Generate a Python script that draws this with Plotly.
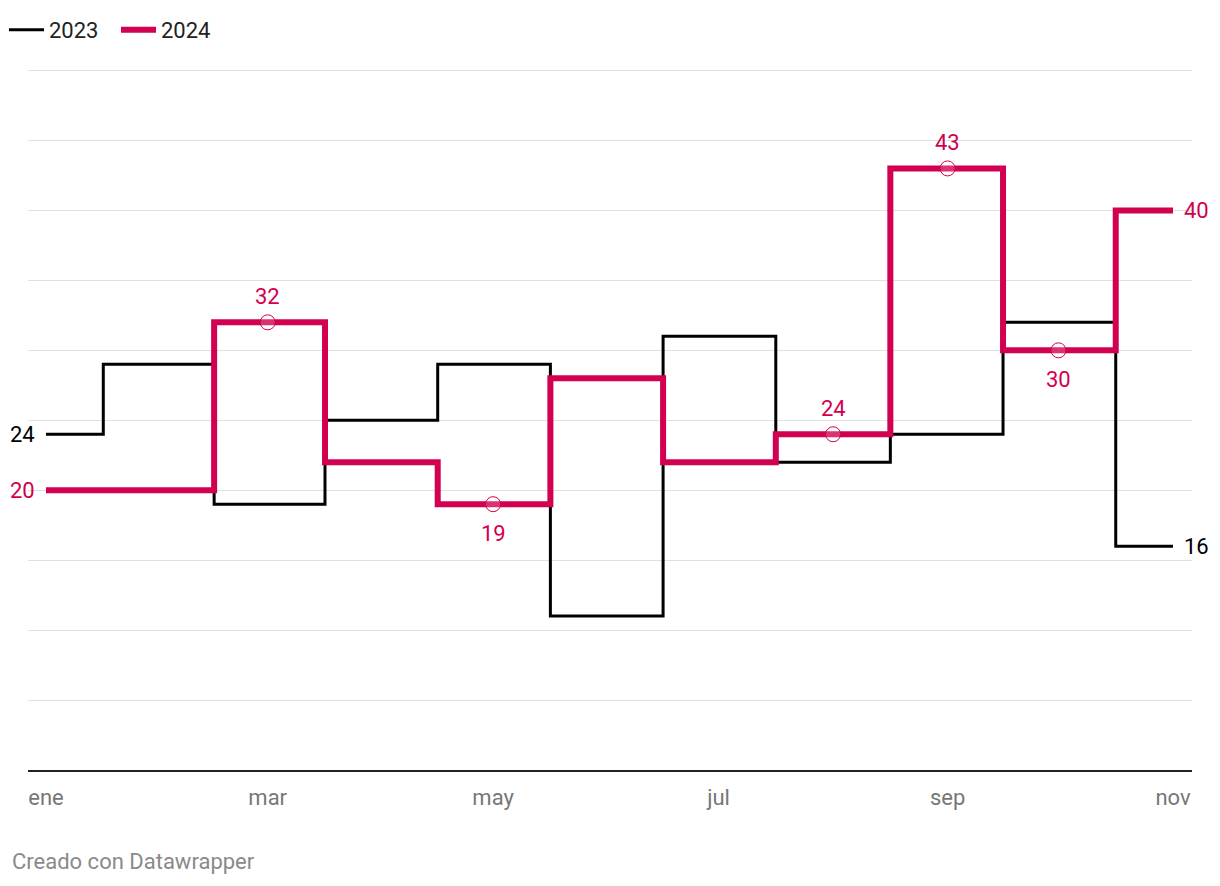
import plotly.graph_objects as go

months = ["2024-01-01", "2024-02-01", "2024-03-01", "2024-04-01", "2024-05-01", "2024-06-01",
          "2024-07-01", "2024-08-01", "2024-09-01", "2024-10-01", "2024-11-01"]
values_2023 = [24, 29, 19, 25, 29, 11, 31, 22, 24, 32, 16]
values_2024 = [20, 20, 32, 22, 19, 28, 22, 24, 43, 30, 40]

tick_vals = ["2024-01-01", "2024-03-01", "2024-05-01", "2024-07-01", "2024-09-01", "2024-11-01"]
tick_text = ["ene", "mar", "may", "jul", "sep", "nov"]
grid_vals = [0, 5, 10, 15, 20, 25, 30, 35, 40, 45, 50]

# points highlighted with a marker and value label (index, position of label)
highlight_idx = [2, 4, 7, 8, 9]
highlight_pos = ["above", "below", "above", "above", "below"]

BLACK = "#000000"
RED = "#d10050"
FONT = "Roboto"

# the page body has an 8px margin; the figure is sized to fit inside it
Y_TOP = 50.25          # a little headroom so the top gridline is drawn
W, H = 1204, 870
ML, MR, MB = 20, 20, 108
PW = W - ML - MR
PH = 14 * Y_TOP        # 14 px per unit
MT = H - MB - PH

fig = go.Figure()
fig.add_trace(go.Scatter(
    x=months, y=values_2023, mode="lines", name="2023",
    line=dict(color=BLACK, width=3, shape="hvh"), hoverinfo="skip"))
fig.add_trace(go.Scatter(
    x=months, y=values_2024, mode="lines", name="2024",
    line=dict(color=RED, width=6, shape="hvh"), hoverinfo="skip"))
fig.add_trace(go.Scatter(
    x=[months[i] for i in highlight_idx], y=[values_2024[i] for i in highlight_idx],
    mode="markers", showlegend=False, hoverinfo="skip",
    marker=dict(size=15, color="rgba(255,255,255,0.2)", line=dict(color=RED, width=1))))

annotations = []
# start / end labels
annotations.append(dict(x=months[0], y=values_2023[0], text=str(values_2023[0]), xanchor="right",
                        xshift=-9, showarrow=False, font=dict(color=BLACK, size=22, family=FONT)))
annotations.append(dict(x=months[0], y=values_2024[0], text=str(values_2024[0]), xanchor="right",
                        xshift=-9, showarrow=False, font=dict(color=RED, size=22, family=FONT)))
annotations.append(dict(x=months[-1], y=values_2023[-1], text=str(values_2023[-1]), xanchor="left",
                        xshift=9, showarrow=False, font=dict(color=BLACK, size=22, family=FONT)))
annotations.append(dict(x=months[-1], y=values_2024[-1], text=str(values_2024[-1]), xanchor="left",
                        xshift=9, showarrow=False, font=dict(color=RED, size=22, family=FONT)))
for i, pos in zip(highlight_idx, highlight_pos):
    annotations.append(dict(x=months[i], y=values_2024[i], text=str(values_2024[i]),
                            yshift=26 if pos == "above" else -29, showarrow=False,
                            font=dict(color=RED, size=22, family=FONT)))
annotations.append(dict(xref="paper", yref="paper", x=-18 / PW, y=-(862 - 770) / PH,
                        xanchor="left", yanchor="middle", text="Creado con Datawrapper",
                        showarrow=False, font=dict(color="#8a8a8a", size=22, family=FONT)))

fig.update_layout(
    width=W, height=H,
    margin=dict(l=ML, r=MR, t=MT, b=MB, autoexpand=False),
    paper_bgcolor="white", plot_bgcolor="white",
    font=dict(family=FONT, size=22, color="#222"),
    showlegend=True,
    legend=dict(orientation="h", xref="container", yref="container",
                x=0, xanchor="left", y=1 - 22 / H, yanchor="middle", indentation=-4,
                font=dict(size=22, family=FONT, color="#222"), bgcolor="rgba(0,0,0,0)",
                itemwidth=35, entrywidth=66, entrywidthmode="pixels"),
    annotations=annotations,
    xaxis=dict(type="date", range=["2023-12-27 03:00", "2024-11-06 03:20"],
               tickvals=tick_vals, ticktext=tick_text, showgrid=False, zeroline=False,
               showline=True, linecolor="#222", linewidth=2, ticks="",
               ticklabelstandoff=7,
               tickfont=dict(color="#777777", size=22, family=FONT)),
    yaxis=dict(range=[0, Y_TOP], tickvals=grid_vals,
               showgrid=True, gridcolor="#e0e0e0", gridwidth=1,
               zeroline=False, showticklabels=False, ticks=""),
)

fig.write_html("out.html")
